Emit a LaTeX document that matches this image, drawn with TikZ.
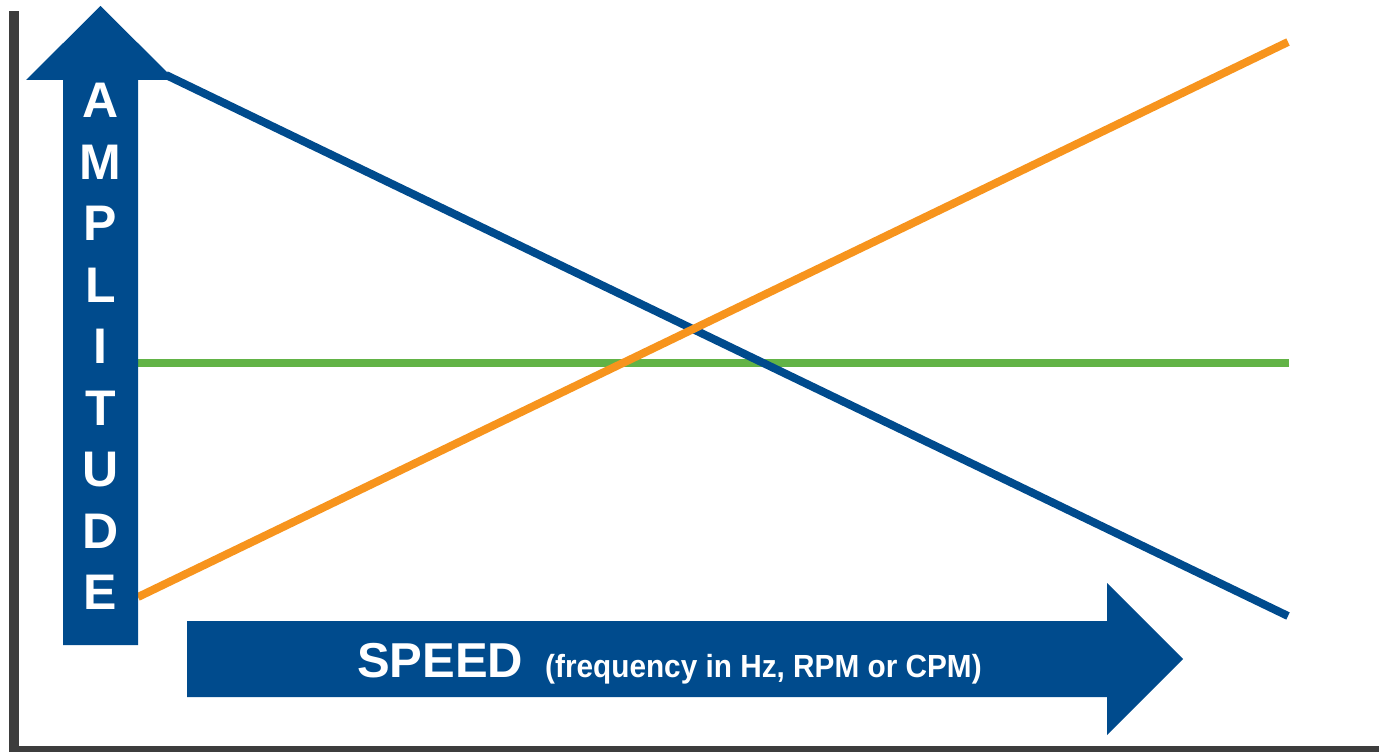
\documentclass[tikz,border=0pt]{standalone}
\usepackage{fontspec}
\setmainfont{Liberation Sans}
\newfontfamily\unitfont[FakeStretch=0.93]{Liberation Sans}
\usepackage{xcolor}
\usepackage{tikz}
\usetikzlibrary{positioning}

\definecolor{axisblue}{HTML}{004B8D}
\definecolor{lineorange}{HTML}{F7941D}
\definecolor{linegreen}{HTML}{62B346}
\definecolor{framegray}{HTML}{3D3D3D}

\tikzset{
  letter/.style={text=white,font=\bfseries\fontsize{50}{50}\selectfont,
    inner sep=0pt,text height=36pt,text depth=0pt},
  trend/.style={line width=8pt}
}

\begin{document}
\begin{tikzpicture}
        [x=1pt,y=-1pt,node distance=61.5pt]
        \useasboundingbox (0,0) rectangle (1379,752);
        % frame
        \fill[framegray] (9,11) rectangle (19,752);
        \fill[framegray] (9,746) rectangle (1379,752);

        % trend lines
        \coordinate (bs) at (166,75);
        \coordinate (be) at (1288,616);
        \coordinate (os) at (138,597);
        \coordinate (oe) at (1288,42);
        \coordinate (gs) at (138,363);
        \coordinate (ge) at (1289,363);
        \draw[trend,linegreen] (gs) -- (ge);
        \draw[trend,axisblue] (bs) -- (be);
        \draw[trend,lineorange] (os) -- (oe);

        % amplitude arrow
        \fill[axisblue] (63,645) -- (63,80) -- (26,80) -- (100.5,6)
          -- (175,80) -- (138,80) -- (138,645) -- cycle;
        % speed arrow
        \fill[axisblue] (187,621) -- (1107,621) -- (1107,583) -- (1183,659)
          -- (1107,735) -- (1107,697) -- (187,697) -- cycle;

        \node [letter,name=a] at (100.5,99.5) {A};
        \node [letter,name=m,below of=a] {M};
        \node [letter,name=p,below of=m] {P};
        \node [letter,name=l,below of=p] {L};
        \node [letter,name=i,below of=l] {I};
        \node [letter,name=t,below of=i] {T};
        \node [letter,name=u,below of=t] {U};
        \node [letter,name=d,below of=u] {D};
        \node [letter,name=e,below of=d] {E};

        \node [text=white,inner sep=0pt,anchor=base west,name=speed] at (357,677)
          {\bfseries\fontsize{49}{49}\selectfont SPEED};
        \node [text=white,inner sep=0pt,anchor=base west,name=unit] at (545,677)
          {\unitfont\bfseries\fontsize{32}{32}\selectfont (frequency in Hz, RPM or CPM)};
    \end{tikzpicture}
\end{document}
